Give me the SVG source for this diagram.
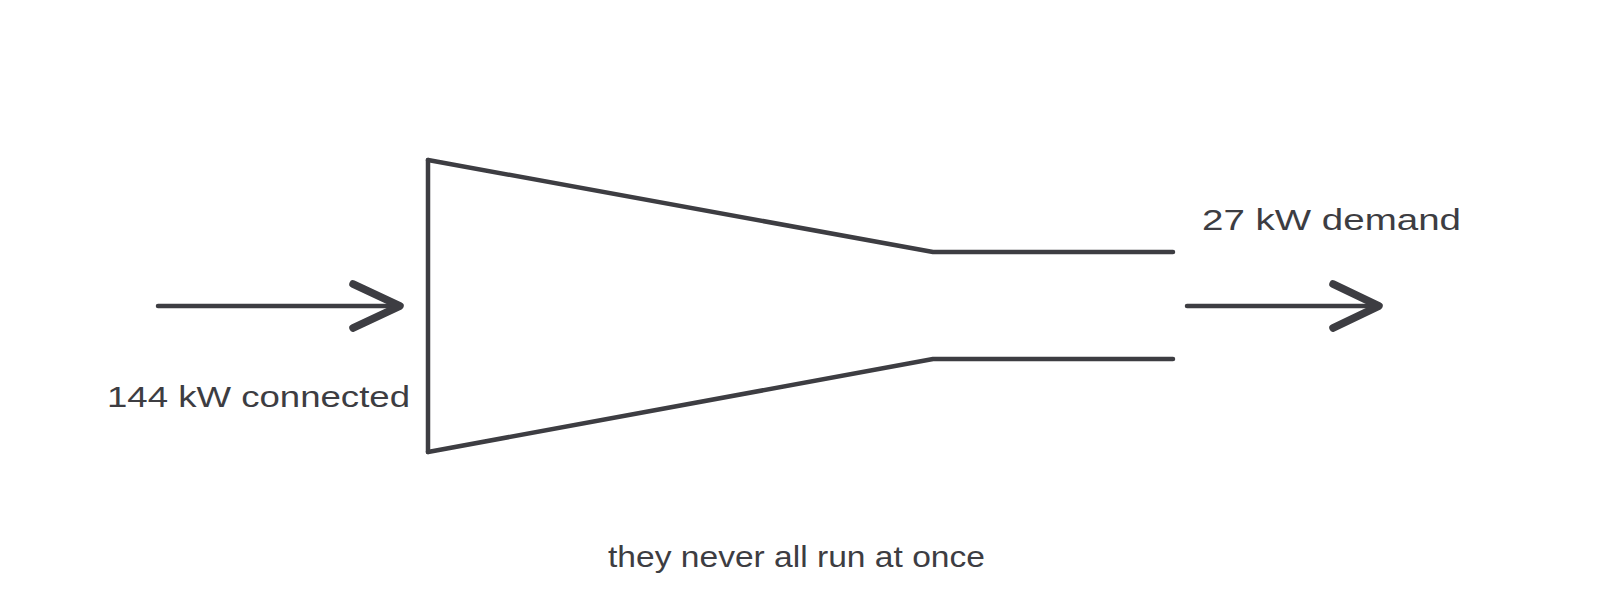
<svg xmlns="http://www.w3.org/2000/svg" width="1600" height="613" viewBox="0 0 1600 613">
<style>
.ln{fill:none;stroke:#3d3d42;stroke-width:4.5;stroke-linecap:round;stroke-linejoin:round}
.hd{fill:none;stroke:#3d3d42;stroke-width:7.5;stroke-linecap:round;stroke-linejoin:round}
.t{font-family:"Liberation Sans","DejaVu Sans",sans-serif;font-size:30px;fill:#3d3d42}
</style>
<rect width="1600" height="613" fill="#ffffff"/>
<g id="funnel">
<path class="ln" d="M428,160 L933,252 L1173,252"/>
<path class="ln" d="M428,452 L933,359 L1173,359"/>
<path class="ln" d="M428,160 L428,452"/>
</g>
<g id="connectors">
<path class="ln" d="M158,306 L400,306"/>
<path class="hd" d="M353,284 L400,306 L353,328"/>
<path class="ln" d="M1187,306 L1379,306"/>
<path class="hd" d="M1333,284 L1379,306 L1333,328"/>
</g>
<g id="label-connected">
<text class="t" x="107" y="407" textLength="303" lengthAdjust="spacingAndGlyphs">144 kW connected</text>
</g>
<g id="label-demand">
<text class="t" x="1202" y="230" textLength="259" lengthAdjust="spacingAndGlyphs">27 kW demand</text>
</g>
<g id="label-note">
<text class="t" x="608" y="567" textLength="377" lengthAdjust="spacingAndGlyphs">they never all run at once</text>
</g>
</svg>
